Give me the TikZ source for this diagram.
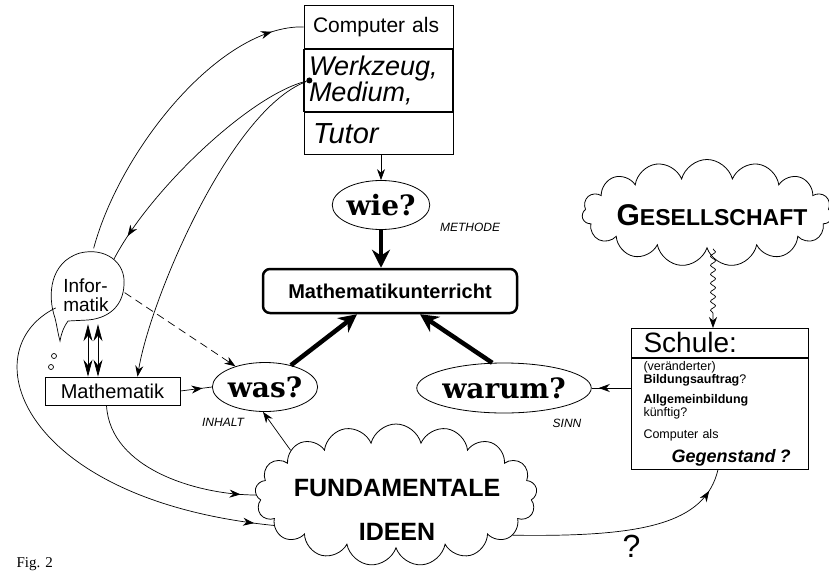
\documentclass[tikz,border=0pt]{standalone}
\usepackage{fontspec}
\setmainfont{Liberation Sans}
\newfontfamily\qfont{DejaVu Serif}
\newfontfamily\figfont{Liberation Serif}
\usetikzlibrary{shapes.geometric, shapes.symbols, arrows.meta, positioning, calc, decorations.markings, decorations.pathmorphing}

\begin{document}
\begin{tikzpicture}[x=1pt, y=-1pt,
    cbox/.style={draw, line width=0.8pt, minimum width=149pt, text width=131pt, inner xsep=9pt, inner ysep=0pt, align=left, anchor=north},
    sbox/.style={draw, line width=0.8pt, minimum width=177pt, text width=153pt, inner xsep=12pt, inner ysep=0pt, align=left, anchor=north},
    frage/.style={draw, ellipse, line width=0.8pt, inner sep=0pt, font=\qfont\bfseries\fontsize{28}{28}\selectfont},
    lbl/.style={font=\itshape\fontsize{12}{12}\selectfont},
    wolke/.style={draw, cloud, cloud ignores aspect, line width=0.8pt, inner sep=0pt},
    fine/.style={line width=0.7pt},
    pfeil/.style={-{Stealth[length=11pt,width=8pt]}},
    dbl/.style={{Stealth[length=17pt,width=9pt]}-{Stealth[length=17pt,width=9pt]}},
    thick arr/.style={line width=4.5pt, -{Stealth[length=18pt,width=18pt]}},
    midarr/.style={postaction={decorate}, decoration={markings, mark=at position #1 with {\arrow{Stealth[length=11pt,width=8pt]}}}},
]
\useasboundingbox (0,0) rectangle (829,570);

% Computer als ...
\node[cbox, minimum height=43pt, font=\fontsize{21}{21}\selectfont] (ca1) at (378.5,5) {Computer als};
\node[cbox, minimum height=62pt, line width=1.3pt, inner xsep=5pt, text width=139pt, font=\itshape\fontsize{27}{25}\selectfont] (ca2) at (ca1.south) {Werkzeug,\\Medium,};
\node[cbox, minimum height=42pt, font=\itshape\fontsize{29}{29}\selectfont] (ca3) at (ca2.south) {Tutor};
\node[circle, fill, inner sep=0pt, minimum size=6pt] (dot) at ([xshift=6pt]ca2.west) {};

% Fragen
\node[frage, minimum width=68pt, minimum height=49pt] (wie) at (381,205) {wie?};
\node[lbl] (methode) at (470,227) {METHODE};
\node[draw, rounded corners=7pt, line width=2.5pt, minimum width=254pt, minimum height=44pt, font=\bfseries\fontsize{20}{20}\selectfont] (mu) at (390,291) {Mathematikunterricht};
\node[frage, minimum width=85pt, minimum height=49pt] (was) at (265,387) {was?};
\node[lbl] (inhalt) at (223,422) {INHALT};
\node[frage, minimum width=142pt, minimum height=50pt] (warum) at (504,388) {warum?};
\node[lbl] (sinn) at (567,423) {SINN};

% Informatik / Mathematik
\node[draw, fine, minimum width=135pt, minimum height=28pt, font=\fontsize{20}{20}\selectfont] (math) at (112.5,391) {Mathematik};
\node[circle, minimum size=76pt, inner sep=0pt] (inf) at (87,286) {};
\node[align=left, font=\fontsize{19}{19}\selectfont] (inftxt) at (86,295) {Infor-\\matik};
\draw[fine] (55,318) .. controls (47,295) and (50,262) .. (80,253)
  .. controls (105,247) and (126,262) .. (124,285)
  .. controls (123,305) and (110,318) .. (88,320) -- (68,321)
  .. controls (63,328) and (61,335) .. (60,341)
  .. controls (58,334) and (57,326) .. (55,318);
\draw[fine] (54,356) circle[radius=2.5pt];
\draw[fine] (51,367) circle[radius=2.5pt];

% Schule
\node[sbox, minimum height=29pt, font=\fontsize{28}{28}\selectfont] (schA) at (720,328) {Schule:};
\node[sbox, minimum height=111pt, font=\fontsize{12.5}{12.5}\selectfont] (schB) at (schA.south) {(veränderter)\\\textbf{Bildungsauftrag}?\\[8pt]\textbf{Allgemeinbildung}\\künftig?\\[10pt]Computer als\\[7pt]\hspace*{28pt}{\fontsize{18}{12}\selectfont\bfseries\itshape Gegenstand ?}};

% Wolken
\node[wolke, cloud puffs=15, minimum width=250pt, minimum height=107pt] (ges) at (707,213) {};
\node[font=\bfseries] (gestxt) at (712,215) {{\fontsize{30}{30}\selectfont G}{\fontsize{23}{23}\selectfont ESELLSCHAFT}};
\node[wolke, cloud puffs=17, minimum width=282pt, minimum height=142pt] (fi) at (396,495) {};
\node[align=center, font=\bfseries\fontsize{25}{44}\selectfont] (fitxt) at (397,510) {FUNDAMENTALE\\IDEEN};

\node[anchor=north west, font=\figfont\fontsize{15}{15}\selectfont] (fig) at (13,554) {Fig. 2};

% Verbindungen
\draw[fine, midarr=0.9] (inf.80) .. controls (120,150) and (220,25) .. (ca1.west);
\draw[fine, midarr=0.9] (dot) .. controls (250,95) and (150,190) .. (inf.45);
\draw[fine, pfeil] (dot) .. controls (230,110) and (150,300) .. ([xshift=25pt]math.north);
\draw[fine, dash pattern=on 8pt off 5pt, pfeil] (inf.-10) -- (was.145);
\draw[fine, dbl] ([xshift=1pt]inf.south) -- ([xshift=1pt]inf.south |- math.north);
\draw[fine, dbl] ([xshift=11pt]inf.south) -- ([xshift=11pt]inf.south |- math.north);
\draw[fine, midarr=0.95] (inf.215) .. controls (-30,350) and (20,500) .. (fi.194);
\draw[fine, midarr=0.92] ([xshift=-6pt]math.south) .. controls (110,470) and (200,495) .. (fi.west);
\draw[fine, midarr=0.7] (math.east) -- (was.west);
\draw[fine, pfeil] (fi.157) -- ([xshift=-2pt]was.south);
\draw[fine, pfeil] (wie.north |- ca3.south) -- (wie.north);
\draw[thick arr] (wie.south) -- (wie.south |- mu.north);
\draw[thick arr] (was.40) -- ([xshift=-33pt]mu.south);
\draw[thick arr] (warum.115) -- ([xshift=30pt]mu.south);
\draw[fine, midarr=0.82] (warum.east -| schB.west) -- (warum.east);
\draw[fine, decorate, decoration={snake, amplitude=2.5pt, segment length=9pt, post length=12pt}, pfeil] ([xshift=-7pt]schA.north |- ges.south) -- ([xshift=-7pt]schA.north);
\draw[fine, midarr=0.9] (fi.-19) .. controls (640,537) and (705,525) .. ([xshift=-2pt]schB.south)
  node[pos=0.38, below=2pt, font=\fontsize{32}{32}\selectfont] (frage) {?};
\end{tikzpicture}
\end{document}
